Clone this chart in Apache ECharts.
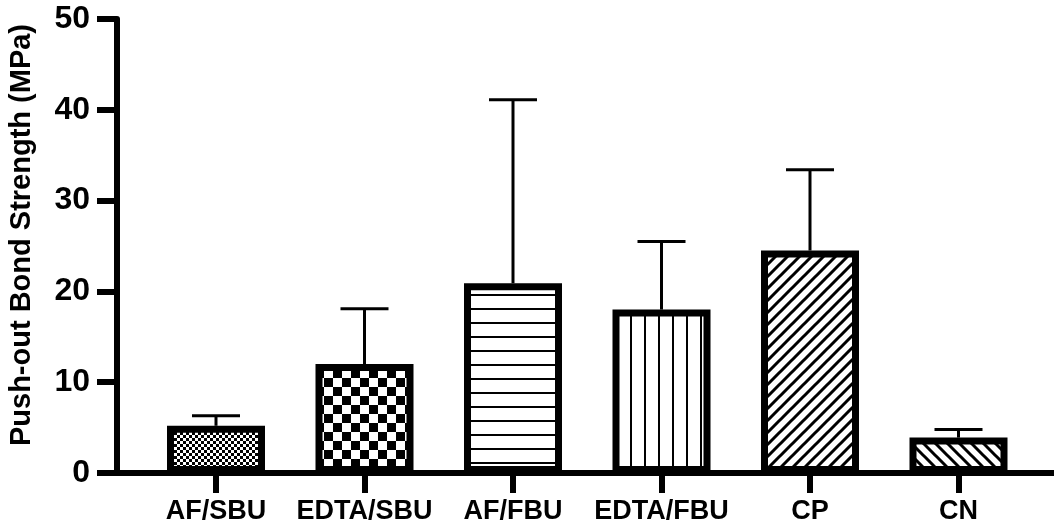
<!DOCTYPE html>
<html>
<head>
<meta charset="utf-8">
<script src="https://cdn.jsdelivr.net/npm/echarts@6/dist/echarts.min.js"></script>
<style>
html,body{margin:0;padding:0;background:#fff;}
#chart{width:1054px;height:531px;}
</style>
</head>
<body>
<div id="chart"></div>
<script>
// ---- data ----
const categories = ['AF/SBU', 'EDTA/SBU', 'AF/FBU', 'EDTA/FBU', 'CP', 'CN'];
const meanValues = [5.2, 12.0, 20.9, 18.0, 24.5, 3.9];
const upperValues = [6.3, 18.1, 41.1, 25.5, 33.4, 4.8];
const patternNames = ['fineCheck', 'bigCheck', 'hLines', 'vLines', 'diagUp', 'diagDown'];
const yAxisName = 'Push-out Bond Strength (MPa)';

// ---- fill patterns ----
function makePattern(name) {
  const c = document.createElement('canvas');
  let ctx;
  if (name === 'fineCheck') {
    c.width = 6; c.height = 6; ctx = c.getContext('2d');
    ctx.fillStyle = '#fff'; ctx.fillRect(0, 0, 6, 6);
    ctx.fillStyle = '#000'; ctx.fillRect(0, 0, 3, 3); ctx.fillRect(3, 3, 3, 3);
  } else if (name === 'bigCheck') {
    c.width = 18; c.height = 18; ctx = c.getContext('2d');
    ctx.fillStyle = '#fff'; ctx.fillRect(0, 0, 18, 18);
    ctx.fillStyle = '#000'; ctx.fillRect(0, 0, 9, 9); ctx.fillRect(9, 9, 9, 9);
  } else if (name === 'hLines') {
    c.width = 4; c.height = 14; ctx = c.getContext('2d');
    ctx.fillStyle = '#fff'; ctx.fillRect(0, 0, 4, 14);
    ctx.fillStyle = '#000'; ctx.fillRect(0, 0, 4, 2);
  } else if (name === 'vLines') {
    c.width = 14; c.height = 4; ctx = c.getContext('2d');
    ctx.fillStyle = '#fff'; ctx.fillRect(0, 0, 14, 4);
    ctx.fillStyle = '#000'; ctx.fillRect(0, 0, 2, 4);
  } else {
    const s = 12;
    c.width = s; c.height = s; ctx = c.getContext('2d');
    ctx.fillStyle = '#fff'; ctx.fillRect(0, 0, s, s);
    ctx.strokeStyle = '#000'; ctx.lineWidth = 3;
    ctx.beginPath();
    if (name === 'diagUp') {
      ctx.moveTo(-s, 2 * s); ctx.lineTo(2 * s, -s);
      ctx.moveTo(-s, s); ctx.lineTo(s, -s);
      ctx.moveTo(0, 2 * s); ctx.lineTo(2 * s, 0);
    } else {
      ctx.moveTo(-s, -s); ctx.lineTo(2 * s, 2 * s);
      ctx.moveTo(-s, 0); ctx.lineTo(s, 2 * s);
      ctx.moveTo(0, -s); ctx.lineTo(2 * s, s);
    }
    ctx.stroke();
  }
  return { image: c, repeat: 'repeat' };
}

const FONT = "'Liberation Sans', Arial, sans-serif";
const chart = echarts.init(document.getElementById('chart'), null, { renderer: 'canvas' });

const barData = meanValues.map((v, i) => ({
  value: v,
  itemStyle: { color: makePattern(patternNames[i]) }
}));
const errData = meanValues.map((v, i) => [i, v, upperValues[i]]);

chart.setOption({
  animation: false,
  backgroundColor: '#fff',
  grid: [
    { left: 117, right: -2, top: 19, bottom: 58, containLabel: false, outerBoundsMode: 'none' },
    { left: 141.75, right: 21.25, top: 19, bottom: 58, containLabel: false, outerBoundsMode: 'none' }
  ],
  xAxis: [
    {
      gridIndex: 0, type: 'value', min: 0, max: 1,
      axisLine: { show: true, lineStyle: { color: '#000', width: 6 } },
      axisTick: { show: false }, axisLabel: { show: false }, splitLine: { show: false }
    },
    {
      gridIndex: 1, type: 'category', data: categories,
      axisLine: { show: false },
      axisTick: { show: true, alignWithLabel: true, length: 20, lineStyle: { color: '#000', width: 6 } },
      axisLabel: { color: '#000', fontFamily: FONT, fontWeight: 'bold', fontSize: 27, margin: 25, interval: 0 },
      splitLine: { show: false }
    }
  ],
  yAxis: [
    {
      gridIndex: 0, type: 'value', min: 0, max: 50, interval: 10,
      name: yAxisName, nameLocation: 'middle', nameGap: 81, nameRotate: 90,
      nameTextStyle: { color: '#000', fontFamily: FONT, fontWeight: 'bold', fontSize: 29, padding: [0, 0, 0, 22] },
      axisLine: { show: true, lineStyle: { color: '#000', width: 6 } },
      axisTick: { show: true, length: 20, lineStyle: { color: '#000', width: 6 } },
      axisLabel: { color: '#000', fontFamily: FONT, fontWeight: 'bold', fontSize: 32, margin: 27 },
      splitLine: { show: false }
    },
    {
      gridIndex: 1, type: 'value', min: 0, max: 50, interval: 10, show: false
    }
  ],
  series: [
    {
      type: 'custom', xAxisIndex: 1, yAxisIndex: 1, z: 1,
      data: errData,
      renderItem: function (params, api) {
        const i = api.value(0);
        const p0 = api.coord([i, api.value(1)]);
        const p1 = api.coord([i, api.value(2)]);
        const half = 24;
        return {
          type: 'group',
          children: [
            { type: 'line', shape: { x1: p0[0], y1: p0[1], x2: p1[0], y2: p1[1] }, style: { stroke: '#000', lineWidth: 3 } },
            { type: 'line', shape: { x1: p1[0] - half, y1: p1[1], x2: p1[0] + half, y2: p1[1] }, style: { stroke: '#000', lineWidth: 3 } }
          ]
        };
      }
    },
    {
      type: 'bar', xAxisIndex: 1, yAxisIndex: 1, z: 2,
      barWidth: 98,
      data: barData,
      itemStyle: { borderColor: '#000', borderWidth: 7 }
    }
  ]
});
</script>
</body>
</html>
